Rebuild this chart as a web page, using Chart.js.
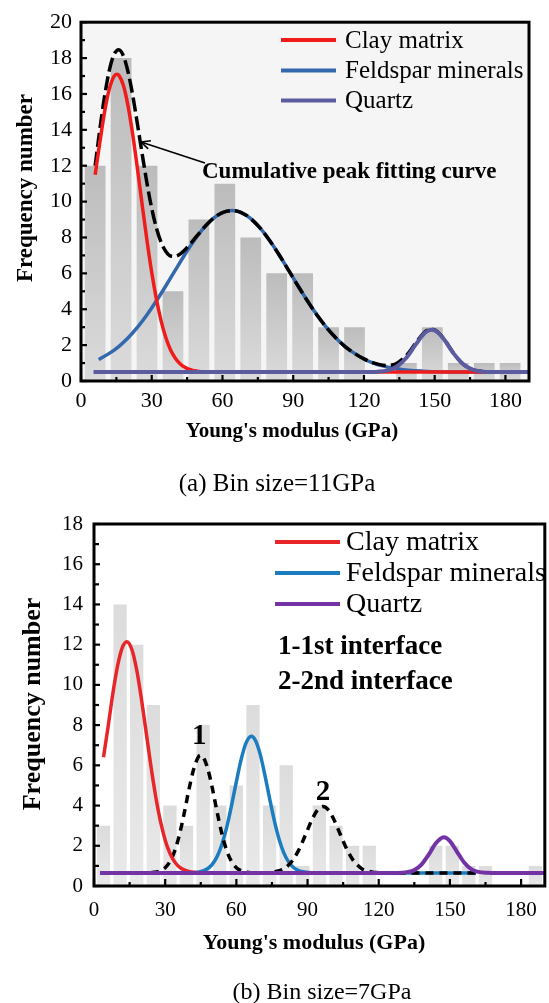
<!DOCTYPE html>
<html><head><meta charset="utf-8">
<script src="https://cdn.jsdelivr.net/npm/chart.js@4.4.1/dist/chart.umd.min.js"></script>
<style>
html,body{margin:0;padding:0;background:#fff;}
#wrap{position:relative;width:549px;height:1003px;overflow:hidden;}
canvas{position:absolute;left:0;}
#ca{top:0;} #cb{top:500px;}
</style></head><body>
<div id="wrap"><canvas id="ca" width="549" height="500"></canvas><canvas id="cb" width="549" height="503"></canvas></div>
<script>
// ---------- Chart (a): bin size 11 GPa ----------
const binCentersA = [6,17,28,39,50,61,72,83,94,105,116,127,138,149,160,171,182];
const countsA     = [12,18,12,5,9,11,8,6,6,3,3,0,1,3,1,1,1];
const clayXA = [6,8,10,12,14,15.2,16,18,20,22,24,26,28,30,32,34,36,38,40,42,44,46,48,50,55,60,100,140,172];
const clayYA = [11.5,13.31,15.0,16.27,16.98,17.1,17.05,16.47,15.29,13.68,11.77,9.77,7.82,6.05,4.55,3.34,2.41,1.73,1.27,0.96,0.76,0.64,0.58,0.53,0.5,0.5,0.5,0.5,0.5];
const feldXA = [7.5,12,16,20,24,28,32,36,40,44,48,52,56,60,64,68,72,76,80,84,88,92,96,100,104,108,112,116,120,124,128,132,136,140,145,150,160,172];
const feldYA = [1.2,1.54,1.92,2.41,3.0,3.69,4.47,5.31,6.18,7.04,7.83,8.52,9.05,9.39,9.5,9.39,9.05,8.52,7.83,7.04,6.18,5.31,4.47,3.69,3.0,2.41,1.92,1.54,1.23,1.0,0.84,0.72,0.64,0.59,0.55,0.52,0.5,0.5];
const quartzXA = [5.3,120,126,130,134,138,142,146,148.7,151,154,158,162,166,170,174,190];
const quartzYA = [0.5,0.5,0.52,0.59,0.81,1.3,2.04,2.7,2.85,2.74,2.31,1.54,0.95,0.64,0.53,0.5,0.5];
const cumXA = [6,8,10,12,14,16,18,20,22,24,26,28,30,32,34,36,38,40,42,44,46,48,50,52,56,60,64,68,72,76,80,84,88,92,96,100,104,108,112,116,120,124,128,130,132,134,138,142,146,148.7,151,154,158,162,166,170];
const cumYA = [12.0,14.04,15.87,17.31,18.2,18.47,18.12,17.2,15.88,14.27,12.61,11.01,9.62,8.52,7.72,7.22,6.97,6.95,7.07,7.3,7.59,7.91,8.22,8.53,9.05,9.39,9.5,9.39,9.05,8.52,7.83,7.04,6.18,5.31,4.47,3.69,3.0,2.41,1.92,1.54,1.23,1.01,0.88,0.87,0.89,0.99,1.42,2.12,2.75,2.89,2.77,2.33,1.55,0.95,0.64,0.53];
const xTicksA = [0,30,60,90,120,150,180];
const yTicksA = [0,2,4,6,8,10,12,14,16,18,20];

// ---------- Chart (b): bin size 7 GPa ----------
const binCentersB = [4,11,18,25,32,39,46,53,60,67,74,81,88,95,102,109,116,123,130,137,144,151,158,165,172,179,186];
const countsB     = [3,14,12,9,4,3,8,4,5,9,4,6,1,4,3,2,2,0,0,0,2,2,1,1,0,0,1];
const clayXB = [4,6,8,10,12,13.8,16,18,20,22,24,26,28,30,32,34,36,38,40,42,45,50,60];
const clayYB = [6.4,7.97,9.61,10.98,11.88,12.15,11.75,10.74,9.29,7.63,5.95,4.45,3.22,2.28,1.63,1.2,0.94,0.8,0.72,0.68,0.66,0.65,0.65];
const ifaceXB = [24,28,30,32,34,36,38,40,42,44,45,46,48,50,52,54,56,58,60,62,64,68,72,76,80,82,84,86,88,90,92,94,96.5,99,101,103,105,107,109,111,113,117,121,130,161];
const ifaceYB = [0.66,0.76,0.91,1.21,1.74,2.55,3.61,4.79,5.81,6.42,6.5,6.42,5.81,4.79,3.61,2.55,1.74,1.21,0.91,0.76,0.69,0.65,0.65,0.7,0.85,1.04,1.32,1.72,2.23,2.79,3.33,3.75,3.95,3.75,3.33,2.79,2.23,1.72,1.32,1.04,0.85,0.7,0.66,0.65,0.65];
const feldXB = [40,44,46,48,50,52,54,56,58,60,62,64,66.3,68,70,72,74,76,78,80,82,84,86,88,92,96,161];
const feldYB = [0.65,0.69,0.75,0.87,1.1,1.49,2.1,2.95,4.02,5.19,6.28,7.09,7.45,7.25,6.57,5.53,4.36,3.25,2.33,1.65,1.2,0.93,0.78,0.71,0.66,0.65,0.65];
const quartzXB = [2.5,128,132,135,138,141,144,147.4,150,153,156,159,162,166,170,190];
const quartzYB = [0.65,0.65,0.69,0.79,1.06,1.55,2.11,2.42,2.23,1.7,1.17,0.84,0.7,0.66,0.65,0.65];
const xTicksB = [0,30,60,90,120,150,180];
const yTicksB = [0,2,4,6,8,10,12,14,16,18];

// ---------- text ----------
const seriesNames = ['Clay matrix','Feldspar minerals','Quartz'];
const cumName = 'Cumulative peak fitting curve';
const ifaceNames = ['1-1st interface','2-2nd interface'];
const xTitle = "Young's modulus (GPa)";
const yTitle = 'Frequency number';
const captionA = '(a) Bin size=11GPa';
const captionB = '(b) Bin size=7GPa';

const SERIF = '"Liberation Serif","Times New Roman",serif';
const zip = (xs, ys) => xs.map((x, i) => ({x, y: ys[i]}));

function barGradient(top, bottom){
  return (c) => {
    const ch = c.chart, a = ch.chartArea;
    if (!a || c.type !== 'data' || !c.raw) return top;
    const yTop = ch.scales.y.getPixelForValue(c.raw.y);
    const base = ch.scales.y.getPixelForValue(0);
    if (base - yTop < 1) return top;
    const g = ch.ctx.createLinearGradient(0, yTop, 0, base);
    g.addColorStop(0, top); g.addColorStop(1, bottom);
    return g;
  };
}

const decoPlugin = {
  id: 'deco',
  beforeDatasetsDraw(chart, args, o){
    const {ctx, chartArea: a} = chart;
    ctx.save(); ctx.fillStyle = o.bg;
    ctx.fillRect(a.left, a.top, a.right - a.left, a.bottom - a.top);
    ctx.restore();
  },
  afterDatasetsDraw(chart, args, o){
    const {ctx, chartArea: a, scales} = chart;
    ctx.save();
    // inward ticks
    ctx.strokeStyle = '#000'; ctx.lineWidth = 2.2;
    for (let v = 0; v <= 180; v += 15){
      const px = scales.x.getPixelForValue(v);
      const len = v % 30 === 0 ? o.xMajor : o.xMinor;
      ctx.beginPath(); ctx.moveTo(px, a.bottom); ctx.lineTo(px, a.bottom - len); ctx.stroke();
    }
    for (let v = 0; v <= o.yMax; v += 1){
      const py = scales.y.getPixelForValue(v);
      const len = v % 2 === 0 ? o.yMajor : o.yMinor;
      ctx.beginPath(); ctx.moveTo(a.left, py); ctx.lineTo(a.left + len, py); ctx.stroke();
    }
    // frame
    ctx.lineWidth = 3; ctx.strokeStyle = '#000';
    ctx.strokeRect(a.left, a.top, a.right - a.left, a.bottom - a.top);
    // legend
    ctx.textBaseline = 'middle'; ctx.textAlign = 'left'; ctx.fillStyle = '#000';
    const items = chart.data.datasets.filter(d => d.inLegend);
    items.forEach((d, i) => {
      const y = o.legendY[i];
      ctx.strokeStyle = d.borderColor; ctx.lineWidth = 4; ctx.setLineDash([]);
      ctx.beginPath(); ctx.moveTo(o.legendX1, y); ctx.lineTo(o.legendX2, y); ctx.stroke();
      ctx.font = o.legendFont; ctx.fillText(d.label, o.legendTextX, y + 1);
    });
    // extra texts
    (o.texts || []).forEach(t => {
      ctx.font = t.font; ctx.textAlign = t.align || 'left'; ctx.textBaseline = 'middle';
      let x = t.x, y = t.y;
      if (t.dataX !== undefined){ x = scales.x.getPixelForValue(t.dataX); y = scales.y.getPixelForValue(t.dataY); }
      if (t.rotate){ ctx.save(); ctx.translate(x, y); ctx.rotate(-Math.PI/2); ctx.fillText(t.text, 0, 0); ctx.restore(); }
      else ctx.fillText(t.text, x, y);
    });
    // arrow
    if (o.arrow){
      const [x1, y1, x2, y2] = o.arrow;
      ctx.strokeStyle = '#000'; ctx.lineWidth = 1.6;
      ctx.beginPath(); ctx.moveTo(x1, y1); ctx.lineTo(x2, y2); ctx.stroke();
      const ang = Math.atan2(y2 - y1, x2 - x1), L = 10, w = 0.45;
      ctx.beginPath();
      ctx.moveTo(x2 - L*Math.cos(ang - w), y2 - L*Math.sin(ang - w));
      ctx.lineTo(x2, y2);
      ctx.lineTo(x2 - L*Math.cos(ang + w), y2 - L*Math.sin(ang + w));
      ctx.stroke();
    }
    ctx.restore();
  }
};

function makeChart(el, cfg){
  const H = el.height;
  return new Chart(el, {
    type: 'bar',
    data: { datasets: cfg.datasets },
    options: {
      responsive: false, animation: false, devicePixelRatio: 1,
      layout: { padding: { top: cfg.area.top, right: 549 - cfg.area.right, left: 0, bottom: 0 } },
      plugins: { legend: { display: false }, tooltip: { enabled: false }, deco: cfg.deco },
      scales: {
        x: {
          type: 'linear', min: 0, max: 190, offset: false,
          grid: { display: false, drawTicks: false }, border: { display: false },
          afterBuildTicks: s => { s.ticks = cfg.xTicks.map(v => ({value: v})); },
          afterFit: s => { s.height = H - cfg.area.bottom; },
          ticks: { color: '#000', padding: cfg.xPad, font: { family: SERIF, size: cfg.tickSize }, maxRotation: 0, autoSkip: false }
        },
        y: {
          type: 'linear', min: 0, max: cfg.yMax,
          grid: { display: false, drawTicks: false }, border: { display: false },
          afterBuildTicks: s => { s.ticks = cfg.yTicks.map(v => ({value: v})); },
          afterFit: s => { s.width = cfg.area.left; },
          ticks: { color: '#000', padding: cfg.yPad, font: { family: SERIF, size: cfg.tickSize }, autoSkip: false }
        }
      }
    },
    plugins: [decoPlugin]
  });
}

const lineDs = (label, xs, ys, color, width, order, extra) => Object.assign({
  type: 'line', label, data: zip(xs, ys), borderColor: color, borderWidth: width,
  pointRadius: 0, fill: false, cubicInterpolationMode: 'monotone', order
}, extra || {});

// ---------- build (a) ----------
makeChart(document.getElementById('ca'), {
  area: { left: 81, right: 529, top: 22, bottom: 381 },
  yMax: 20, xTicks: xTicksA, yTicks: yTicksA, tickSize: 22, xPad: 7, yPad: 9,
  datasets: [
    { type: 'bar', label: 'Frequency', data: zip(binCentersA, countsA), order: 10,
      backgroundColor: barGradient('#bcbcbc', '#dbdbdb'), borderWidth: 0,
      barPercentage: 0.8, categoryPercentage: 1.0 },
    lineDs(seriesNames[0], clayXA, clayYA, '#f01c1c', 3.5, 2, { inLegend: true }),
    lineDs(seriesNames[1], feldXA, feldYA, '#3468ad', 3.5, 4, { inLegend: true }),
    lineDs(seriesNames[2], quartzXA, quartzYA, '#5b5c9f', 4, 1, { inLegend: true }),
    lineDs(cumName, cumXA, cumYA, '#000000', 3.5, 3, { borderDash: [14, 5] })
  ],
  deco: {
    bg: '#f5f5f5', yMax: 20, xMajor: 6, xMinor: 4, yMajor: 6, yMinor: 4,
    legendX1: 281, legendX2: 336, legendTextX: 345, legendY: [40, 70.5, 100.5],
    legendFont: '25px ' + SERIF,
    arrow: [205, 163, 141, 142],
    texts: [
      { text: cumName, x: 202, y: 172, font: 'bold 23px ' + SERIF },
      { text: xTitle, x: 292, y: 432, align: 'center', font: 'bold 21px ' + SERIF },
      { text: yTitle, x: 26, y: 188, align: 'center', rotate: true, font: 'bold 23px ' + SERIF },
      { text: captionA, x: 277, y: 484, align: 'center', font: '25px ' + SERIF }
    ]
  }
});

// ---------- build (b) ----------
makeChart(document.getElementById('cb'), {
  area: { left: 94, right: 546, top: 24, bottom: 386 },
  yMax: 18, xTicks: xTicksB, yTicks: yTicksB, tickSize: 21, xPad: 12, yPad: 11,
  datasets: [
    { type: 'bar', label: 'Frequency', data: zip(binCentersB, countsB), order: 10,
      backgroundColor: barGradient('#dcdcdc', '#e9e9e9'), borderWidth: 0,
      barPercentage: 0.8, categoryPercentage: 1.0 },
    lineDs(seriesNames[0], clayXB, clayYB, '#e8262a', 3.5, 2, { inLegend: true }),
    lineDs(seriesNames[1], feldXB, feldYB, '#1b7cc0', 3.5, 4, { inLegend: true }),
    lineDs(seriesNames[2], quartzXB, quartzYB, '#7333a5', 4, 1, { inLegend: true }),
    lineDs('Interfaces', ifaceXB, ifaceYB, '#000000', 3.5, 3, { borderDash: [8, 6] })
  ],
  deco: {
    bg: '#ffffff', yMax: 18, xMajor: 7, xMinor: 4, yMajor: 6, yMinor: 5,
    legendX1: 275, legendX2: 340, legendTextX: 346, legendY: [42, 73, 104],
    legendFont: '28px ' + SERIF,
    texts: [
      { text: ifaceNames[0], x: 278, y: 147, font: 'bold 27px ' + SERIF },
      { text: ifaceNames[1], x: 278, y: 182, font: 'bold 27px ' + SERIF },
      { text: '1', dataX: 44.4, dataY: 7.45, align: 'center', font: 'bold 29px ' + SERIF },
      { text: '2', dataX: 96.5, dataY: 4.65, align: 'center', font: 'bold 29px ' + SERIF },
      { text: xTitle, x: 314, y: 443, align: 'center', font: 'bold 22px ' + SERIF },
      { text: yTitle, x: 33, y: 204, align: 'center', rotate: true, font: 'bold 26px ' + SERIF },
      { text: captionB, x: 322, y: 493, align: 'center', font: '24px ' + SERIF }
    ]
  }
});
</script>
</body></html>
